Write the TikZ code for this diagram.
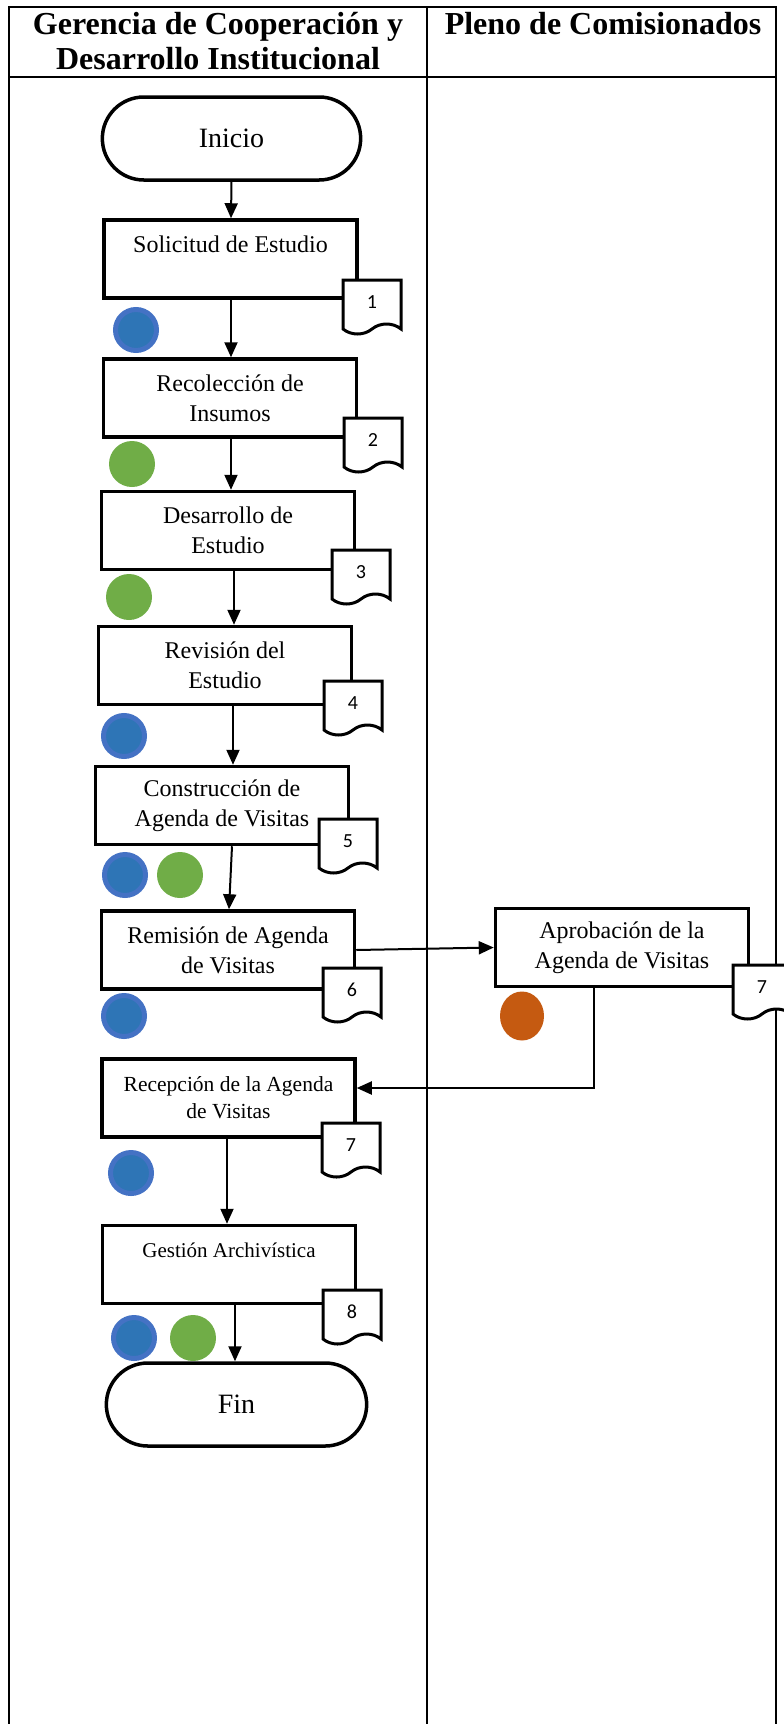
\documentclass[tikz,border=0pt]{standalone}
\usepackage{fontspec}
\setmainfont{Liberation Serif}
\newfontfamily\numfont{Carlito}
\usetikzlibrary{
  arrows.meta,
  positioning,
  shapes.geometric,
  shapes.misc,
  shapes.symbols
}
\definecolor{ink}{HTML}{000000}
\definecolor{bluering}{HTML}{4472C4}
\definecolor{bluecore}{HTML}{2E75B6}
\definecolor{green}{HTML}{70AD47}
\definecolor{orange}{HTML}{C55A11}
\tikzset{
  lane/.style={
    line width=2pt,
    draw=ink
  },
  lanehead/.style={
    font=\bfseries\fontsize{32}{35}\selectfont,
    align=center,
    inner sep=0pt,
    anchor=north
  },
  flow/.style={
    -{Triangle[length=15pt,width=13pt]},
    line width=2pt,
    draw=ink
  },
  terminal/.style={
    rounded rectangle,
    draw=ink,
    fill=white,
    line width=3.5pt,
    font=\fontsize{28}{32}\selectfont
  },
  process/.style={
    draw=ink,
    fill=white,
    line width=3.5pt,
    align=center,
    inner sep=0pt,
    minimum width=253pt,
    minimum height=78pt,
    font=\fontsize{24}{30}\selectfont
  },
  docmark/.style={
    tape,
    tape bend top=none,
    tape bend bottom=in and out,
    tape bend height=10pt,
    draw=ink,
    fill=white,
    line width=3pt,
    minimum width=58pt,
    minimum height=54pt,
    inner sep=0pt,
    font=\numfont\fontsize{20}{22}\selectfont
  },
  bluedot/.style={
    circle,
    fill=bluecore,
    draw=bluering,
    line width=5pt,
    minimum size=41pt,
    inner sep=0pt
  },
  greendot/.style={
    circle,
    fill=green,
    minimum size=46pt,
    inner sep=0pt
  },
  orangedot/.style={
    ellipse,
    fill=orange,
    minimum width=44pt,
    minimum height=49pt,
    inner sep=0pt
  }
}

\begin{document}
\begin{tikzpicture}[x=1pt, y=-1pt]
  \useasboundingbox (0,0) rectangle (784,1724);
  \draw[lane] (9,1724) -- (9,7) -- (776,7) -- (776,1724);
  \draw[lane] (9,77) -- (776,77);
  \draw[lane] (427,7) -- (427,1724);
  \node[lanehead] (gerencia) at (218,12.5)
    {Gerencia de Cooperación y\\Desarrollo Institucional};
  \node[lanehead] (pleno) at (603,12.5) {Pleno de Comisionados};

  \node[terminal, minimum width=265pt, minimum height=83pt]
    (inicio) at (231.5,138.5) {Inicio};
  \node[process] (solicitud) at (230.5,259) {Solicitud de Estudio\\\mbox{}};
  \node[process] (recoleccion) at (230,398) {Recolección de\\Insumos};
  \node[process] (desarrollo) at (228,530.5) {Desarrollo de\\Estudio};
  \node[process] (revision) at (225,665.5) {Revisión del\\Estudio};
  \node[process] (construccion) at (222,805.5) {Construcción de\\Agenda de Visitas};
  \node[process] (remision) at (228,950) {Remisión de Agenda\\de Visitas};
  \node[process] (aprobacion) at (622,947.5) {Aprobación de la\\Agenda de Visitas};
  \node[process, font=\fontsize{21.5}{27}\selectfont]
    (recepcion) at (228.5,1098) {Recepción de la Agenda\\de Visitas};
  \node[process, font=\fontsize{21}{29}\selectfont]
    (gestion) at (229,1264.5) {Gestión Archivística\\\mbox{}};
  \node[terminal, minimum width=267pt, minimum height=83pt]
    (fin) at (236.5,1404.5) {Fin};

  \foreach \a/\b/\sa/\sb in {inicio/solicitud/0/0.5,
      solicitud/recoleccion/0.5/1, recoleccion/desarrollo/1/3,
      desarrollo/revision/6/9, revision/construccion/8/11,
      construccion/remision/10/1, recepcion/gestion/-1.5/-2,
      gestion/fin/6/-1.5}{
    \draw[flow] ([xshift=\sa pt]\a.south) -- ([xshift=\sb pt]\b.north);
  }
  \draw[flow] (remision.east) -- (aprobacion.west);
  \draw[flow] ([xshift=-28.5pt]aprobacion.south)
    |- ([yshift=10pt]recepcion.east);

  \node[docmark] (doc1) at (372,302) {1};
  \node[docmark] (doc2) at (373,440) {2};
  \node[docmark] (doc3) at (361,572) {3};
  \node[docmark] (doc4) at (353,703) {4};
  \node[docmark] (doc5) at (348,841) {5};
  \node[docmark] (doc6) at (352,990) {6};
  \node[docmark] (doc7a) at (762,987) {7};
  \node[docmark] (doc7b) at (351,1145) {7};
  \node[docmark] (doc8) at (352,1312) {8};

  \node[bluedot] (est1) at (136,330) {};
  \node[greendot] (est2) at (132,464) {};
  \node[greendot] (est3) at (129,597) {};
  \node[bluedot] (est4) at (124,736) {};
  \node[bluedot] (est5a) at (125,875) {};
  \node[greendot] (est5b) at (180,875) {};
  \node[bluedot] (est6) at (124,1016) {};
  \node[orangedot] (est7a) at (522,1016) {};
  \node[bluedot] (est7b) at (131,1173) {};
  \node[bluedot] (est8a) at (134,1338) {};
  \node[greendot] (est8b) at (193,1338) {};
\end{tikzpicture}
\end{document}
